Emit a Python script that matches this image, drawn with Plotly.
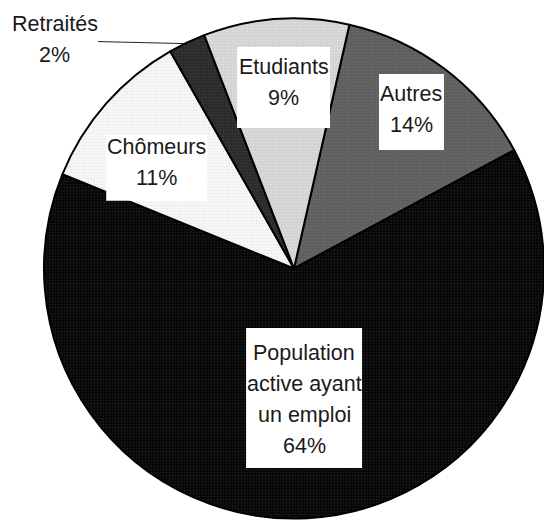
import math
import plotly.graph_objects as go

# ---- data ----
labels = ["Autres", "Population active ayant un emploi", "Chômeurs", "Retraités", "Etudiants"]
label_lines = [["Autres"], ["Population", "active ayant", "un emploi"], ["Chômeurs"], ["Retraités"], ["Etudiants"]]
values = [13.6, 64.0, 10.6, 2.4, 9.4]
pct_labels = ["14%", "64%", "11%", "2%", "9%"]

# ---- styles ----
W, H = 544, 522
CX, CY, R = 294, 268.5, 250  # pie centre / radius in px (from top-left)
ROTATION = 12.8
colors = ["#5e5e5e", "#060606", "#f7f7f7", "#2a2a2a", "#d2d2d2"]
dot_colors = ["#7a7a7a", "#3a3a3a", "#d8d8d8", "#4a4a4a", "#f0f0f0"]
label_r = [0.783, 0.52, 0.681, None, 0.725]
label_dtheta = [-0.4, -1.4, -5.0, 0, 0.8]
box_w = [65, 116, 101, None, 93]
box_h = [76, 140, 66, None, 81]
text_dy = [-2, 1, -5, 0, -5]
PITCH = 31
FONT = "Liberation Sans, Arial, sans-serif"
FSIZE = 21.5
TXT_COLOR = "#1a1a1a"

fig = go.Figure()
fig.add_trace(go.Pie(
    labels=labels,
    values=values,
    sort=False,
    direction="clockwise",
    rotation=ROTATION,
    textinfo="none",
    hoverinfo="label+percent",
    showlegend=False,
    marker=dict(
        colors=colors,
        line=dict(color="#000000", width=2),
        pattern=dict(shape=".", fgcolor=dot_colors, size=3, solidity=0.25, fillmode="overlay"),
    ),
    domain=dict(x=[max(0, (CX - R) / W), min(1, (CX + R) / W)],
                y=[max(0, (H - CY - R) / H), min(1, (H - CY + R) / H)]),
))


def px2paper(x, y):
    return x / W, 1 - y / H


total = sum(values)
start = ROTATION
annotations = []
shapes = []
for i, v in enumerate(values):
    span = 360.0 * v / total
    mid = start + span / 2
    start += span
    lines = label_lines[i] + [pct_labels[i]]
    if label_r[i] is None:
        # outside label with leader line
        th = math.radians(mid)
        tx = CX + R * math.sin(th)
        ty = CY - R * math.cos(th)
        x0, y0 = px2paper(tx - 2, ty + 1)
        x1, y1 = px2paper(tx - 89, ty - 1)
        shapes.append(dict(type="line", xref="paper", yref="paper", x0=x0, y0=y0, x1=x1, y1=y1,
                           line=dict(color="#222222", width=1)))
        cx_t, cy_t = tx - 132, ty - 3
    else:
        th = math.radians(mid + label_dtheta[i])
        bx = CX + label_r[i] * R * math.sin(th)
        by = CY - label_r[i] * R * math.cos(th)
        x0, y0 = px2paper(bx - box_w[i] / 2, by + box_h[i] / 2)
        x1, y1 = px2paper(bx + box_w[i] / 2, by - box_h[i] / 2)
        shapes.append(dict(type="rect", xref="paper", yref="paper", x0=x0, y0=y0, x1=x1, y1=y1,
                           fillcolor="#ffffff", line=dict(width=0), layer="above"))
        cx_t, cy_t = bx, by + text_dy[i]
    n = len(lines)
    for k, s in enumerate(lines):
        ly = cy_t + (k - (n - 1) / 2) * PITCH
        ax_, ay_ = px2paper(cx_t, ly)
        annotations.append(dict(
            x=ax_, y=ay_, xref="paper", yref="paper",
            xanchor="center", yanchor="middle",
            text=s, showarrow=False,
            font=dict(family=FONT, size=FSIZE, color=TXT_COLOR),
        ))

fig.update_layout(
    width=W, height=H,
    margin=dict(l=0, r=0, t=0, b=0),
    paper_bgcolor="#ffffff",
    plot_bgcolor="#ffffff",
    annotations=annotations,
    shapes=shapes,
)

fig.write_html("out.html")
